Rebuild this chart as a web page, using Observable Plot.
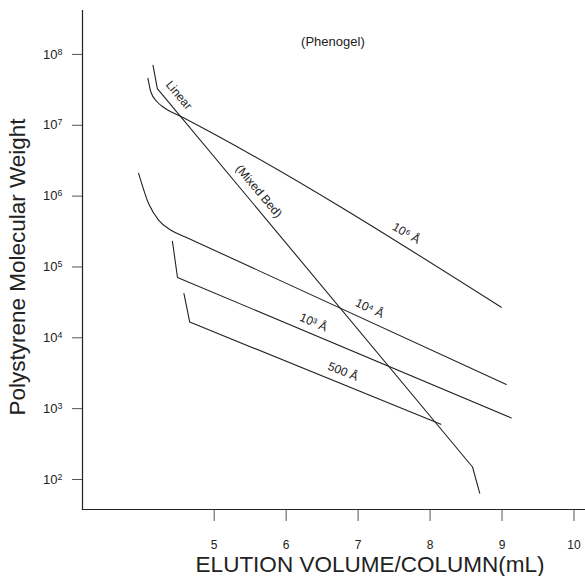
<!DOCTYPE html>
<html>
<head>
<meta charset="utf-8">
<script src="https://cdn.jsdelivr.net/npm/d3@7"></script>
<script src="https://cdn.jsdelivr.net/npm/@observablehq/plot@0.6"></script>
<style>
  html, body { margin: 0; padding: 0; background: #fff; }
  #chart { width: 585px; height: 576px; }
</style>
</head>
<body>
<div id="chart"></div>
<script>
// ---- data ----
const volumeTicks = [5, 6, 7, 8, 9, 10];
const mwTicks = [1e2, 1e3, 1e4, 1e5, 1e6, 1e7, 1e8];

const mixedBedVol = [4.15, 4.21, 8.59, 8.69];
const mixedBedMW  = [7.0e7, 3.3e7, 1.5e2, 64];

const pore1e6Vol = [4.08, 4.12, 4.21, 4.30, 4.56, 8.99];
const pore1e6MW  = [4.6e7, 2.95e7, 2.13e7, 1.78e7, 1.30e7, 2.7e4];

const pore1e4Vol = [3.95, 4.09, 4.23, 4.40, 4.60, 9.06];
const pore1e4MW  = [2.1e6, 7.8e5, 4.55e5, 3.3e5, 2.65e5, 2.2e3];

const pore1e3Vol = [4.42, 4.49, 9.13];
const pore1e3MW  = [2.3e5, 7.1e4, 740];

const pore500Vol = [4.58, 4.66, 8.15];
const pore500MW  = [4.2e4, 1.67e4, 600];

const labelText  = ["Linear", "(Mixed Bed)", "10\u2076 \u00C5", "10\u2074 \u00C5", "10\u00B3 \u00C5", "500 \u00C5", "(Phenogel)"];
const labelVol   = [4.51, 5.62, 7.67, 7.16, 6.38, 6.79, 6.65];
const labelMW    = [2.65e7, 1.17e6, 3.0e5, 2.6e4, 1.65e4, 3.35e3, 1.53e8];
const labelAngle = [50, 50, 30, 25, 23, 22, 0];
const labelSize  = [12, 12, 12, 12, 12, 12, 13];

const xTitle = "ELUTION VOLUME/COLUMN(mL)";
const yTitle = "Polystyrene Molecular Weight";

// ---- build tables ----
const rows = (vol, mw) => vol.map((v, i) => ({vol: v, mw: mw[i]}));
const labels = labelText.map((t, i) => ({text: t, vol: labelVol[i], mw: labelMW[i], angle: labelAngle[i], size: labelSize[i]}));
const expOf = d => String(Math.round(Math.log10(d)));

const ink = "#222";

const chart = Plot.plot({
  width: 585,
  height: 576,
  marginLeft: 82,
  marginRight: 0,
  marginTop: 10,
  marginBottom: 67,
  style: {fontFamily: "'Liberation Sans', Arial, Helvetica, sans-serif", background: "#fff", color: ink},
  x: {domain: [3.17, 10.16]},
  y: {type: "log", domain: [37.7, 4.17e8]},
  marks: [
    Plot.axisX({ticks: volumeTicks, tickSize: 12, tickPadding: 19, fontSize: 12, label: null, stroke: "#555", tickFormat: d => String(d)}),
    Plot.axisY({ticks: mwTicks, tickSize: 10, tickPadding: 10, fontSize: 13, label: null, stroke: "#555", tickFormat: d => "10^" + expOf(d)}),
    Plot.frame({anchor: "left", stroke: ink, strokeWidth: 1.2}),
    Plot.frame({anchor: "bottom", stroke: ink, strokeWidth: 1.2}),
    Plot.line(rows(mixedBedVol, mixedBedMW), {x: "vol", y: "mw", stroke: ink, strokeWidth: 1.1}),
    Plot.line(rows(pore1e6Vol, pore1e6MW), {x: "vol", y: "mw", stroke: ink, strokeWidth: 1.1, curve: "monotone-x"}),
    Plot.line(rows(pore1e4Vol, pore1e4MW), {x: "vol", y: "mw", stroke: ink, strokeWidth: 1.1, curve: "monotone-x"}),
    Plot.line(rows(pore1e3Vol, pore1e3MW), {x: "vol", y: "mw", stroke: ink, strokeWidth: 1.1}),
    Plot.line(rows(pore500Vol, pore500MW), {x: "vol", y: "mw", stroke: ink, strokeWidth: 1.1}),
    Plot.text(labels, {x: "vol", y: "mw", text: "text", rotate: "angle", fontSize: "size", fill: ink}),
    Plot.text([xTitle], {frameAnchor: "bottom", textAnchor: "middle", lineAnchor: "middle", dx: 36, dy: 55, fontSize: 22.5, fill: ink}),
    Plot.text([yTitle], {frameAnchor: "left", textAnchor: "middle", lineAnchor: "middle", dx: -65, dy: 7, rotate: -90, fontSize: 22.5, fill: ink})
  ]
});
document.getElementById("chart").appendChild(chart);

// render y tick labels as 10 with a raised exponent
d3.select(chart).selectAll("g[aria-label='y-axis tick label'] text").each(function () {
  const t = d3.select(this);
  const s = t.text();
  if (!s.startsWith("10^")) return;
  const e = s.slice(3);
  t.text("10");
  t.append("tspan").attr("dy", "-0.45em").attr("font-size", "0.68em").text(e);
});
</script>
</body>
</html>
